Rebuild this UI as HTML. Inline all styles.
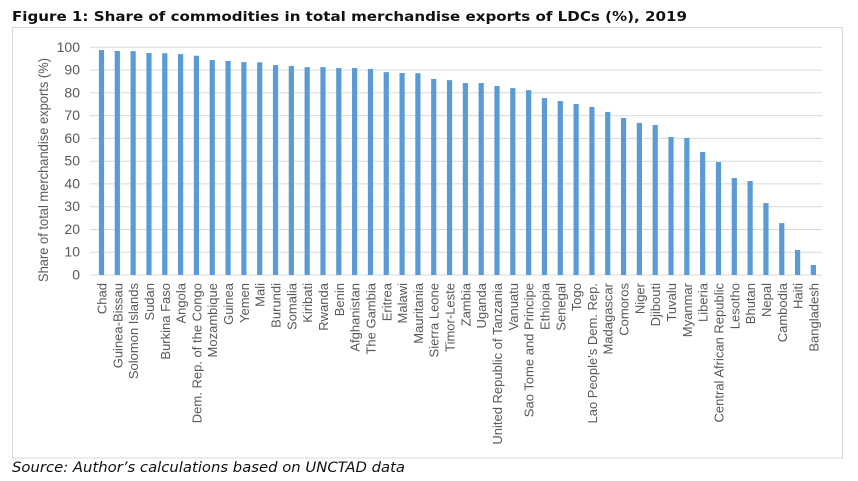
<!DOCTYPE html>
<html>
<head>
<meta charset="utf-8">
<style>
  html,body{margin:0;padding:0;background:#fff;}
  svg{display:block;}
</style>
</head>
<body>
<svg width="858" height="481" viewBox="0 0 858 481" xmlns="http://www.w3.org/2000/svg">
  <rect x="0" y="0" width="858" height="481" fill="#fff"/>
  <text x="12" y="21" font-family="DejaVu Sans, sans-serif" font-weight="bold" font-size="13.5" fill="#111" textLength="675" lengthAdjust="spacingAndGlyphs">Figure 1: Share of commodities in total merchandise exports of LDCs (%), 2019</text>
  <rect x="12.5" y="27.5" width="830" height="430.5" fill="#fff" stroke="#d9d9d9" stroke-width="1"/>

  <g stroke="#d9d9d9" stroke-width="1">
    <line x1="90" x2="822" y1="47.3" y2="47.3"/>
    <line x1="90" x2="822" y1="70.1" y2="70.1"/>
    <line x1="90" x2="822" y1="92.8" y2="92.8"/>
    <line x1="90" x2="822" y1="115.6" y2="115.6"/>
    <line x1="90" x2="822" y1="138.4" y2="138.4"/>
    <line x1="90" x2="822" y1="161.2" y2="161.2"/>
    <line x1="90" x2="822" y1="183.9" y2="183.9"/>
    <line x1="90" x2="822" y1="206.7" y2="206.7"/>
    <line x1="90" x2="822" y1="229.5" y2="229.5"/>
    <line x1="90" x2="822" y1="252.2" y2="252.2"/>
    <line x1="90" x2="822" y1="275" y2="275"/>
  </g>

  <g font-family="Liberation Sans, sans-serif" font-size="14" fill="#595959" text-anchor="end">
    <text x="80" y="51.8">100</text>
    <text x="80" y="74.6">90</text>
    <text x="80" y="97.3">80</text>
    <text x="80" y="120.1">70</text>
    <text x="80" y="142.9">60</text>
    <text x="80" y="165.7">50</text>
    <text x="80" y="188.4">40</text>
    <text x="80" y="211.2">30</text>
    <text x="80" y="234">20</text>
    <text x="80" y="256.7">10</text>
    <text x="80" y="279.5">0</text>
  </g>

  <text transform="translate(48,170) rotate(-90)" font-family="Liberation Sans, sans-serif" font-size="13.5" fill="#595959" text-anchor="middle" textLength="224" lengthAdjust="spacingAndGlyphs">Share of total merchandise exports (%)</text>

  <g id="bars" fill="#5b9bd5"></g>
  <g id="labels" font-family="Liberation Sans, sans-serif" font-size="13" fill="#595959" text-anchor="end"></g>

  <text x="12" y="472" font-family="DejaVu Sans, sans-serif" font-style="italic" font-size="14" fill="#111" textLength="393" lengthAdjust="spacingAndGlyphs">Source: Author’s calculations based on UNCTAD data</text>

  <script>
    var data = [
      ["Chad",98.8],["Guinea-Bissau",98.4],["Solomon Islands",98.3],["Sudan",97.5],["Burkina Faso",97.4],
      ["Angola",97.0],["Dem. Rep. of the Congo",96.3],["Mozambique",94.4],["Guinea",94.0],["Yemen",93.5],
      ["Mali",93.4],["Burundi",92.2],["Somalia",91.8],["Kiribati",91.3],["Rwanda",91.3],["Benin",90.9],
      ["Afghanistan",90.9],["The Gambia",90.5],["Eritrea",89.1],["Malawi",88.7],["Mauritania",88.6],
      ["Sierra Leone",86.1],["Timor-Leste",85.6],["Zambia",84.3],["Uganda",84.3],
      ["United Republic of Tanzania",83.0],["Vanuatu",82.1],["Sao Tome and Principe",81.2],["Ethiopia",77.7],
      ["Senegal",76.4],["Togo",75.1],["Lao People's Dem. Rep.",73.8],["Madagascar",71.6],["Comoros",69.0],
      ["Niger",66.8],["Djibouti",65.9],["Tuvalu",60.6],["Myanmar",60.2],["Liberia",54.0],
      ["Central African Republic",49.6],["Lesotho",42.6],["Bhutan",41.3],["Nepal",31.6],["Cambodia",22.8],
      ["Haiti",11.0],["Bangladesh",4.4]
    ];
    var NS = "http://www.w3.org/2000/svg";
    var bars = document.getElementById("bars");
    var labels = document.getElementById("labels");
    for (var i = 0; i < data.length; i++) {
      var c = 101.5 + i * 15.82;
      var h = data[i][1] * 2.277;
      var r = document.createElementNS(NS, "rect");
      r.setAttribute("x", (c - 2.6).toFixed(2));
      r.setAttribute("y", (275 - h).toFixed(2));
      r.setAttribute("width", "5.2");
      r.setAttribute("height", h.toFixed(2));
      bars.appendChild(r);
      var t = document.createElementNS(NS, "text");
      t.setAttribute("transform", "translate(" + (c + 5).toFixed(2) + ",283) rotate(-90)");
      t.textContent = data[i][0];
      labels.appendChild(t);
    }
  </script>
</svg>
</body>
</html>
